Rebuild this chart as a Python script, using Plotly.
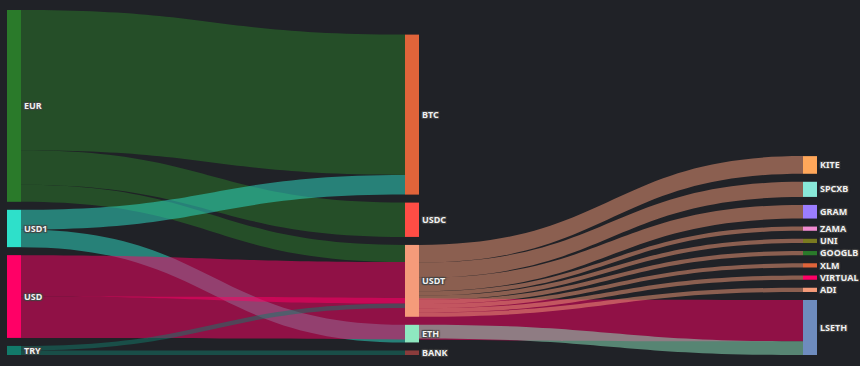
import plotly.graph_objects as go

# ---- data ----
node_labels = ["EUR", "USD1", "USD", "TRY",
               "BTC", "USDC", "USDT", "ETH", "BANK",
               "KITE", "SPCXB", "GRAM", "ZAMA", "UNI", "GOOGLB", "XLM", "VIRTUAL", "ADI", "LSETH"]
node_colors = ["#2a7a2a", "#2ee0ca", "#ff0066", "#127a6a",
               "#e0643a", "#ff4d45", "#f59b7a", "#8ee8c0", "#8a3c3c",
               "#ffa75a", "#88e8d8", "#9b7dff", "#f08ad0", "#7a7a20", "#2a7a2a", "#e0643a", "#ff0066", "#f59b7a", "#6e8cbe"]

link_sources = ["EUR", "EUR", "EUR", "USD1", "USD1", "USD", "USD", "TRY", "TRY",
                "USDT", "USDT", "USDT", "USDT", "USDT", "USDT", "USDT", "USDT", "USDT", "ETH"]
link_targets = ["BTC", "USDC", "USDT", "BTC", "ETH", "USDT", "LSETH", "USDT", "BANK",
                "KITE", "SPCXB", "GRAM", "ZAMA", "UNI", "GOOGLB", "XLM", "VIRTUAL", "ADI", "LSETH"]
link_values = [139, 34, 17, 19.5, 17.5, 41, 41, 4.5, 4.5,
               17.5, 15, 13.5, 4.2, 4.2, 4.2, 4.2, 4.2, 4.2, 13.5]

BG = "#202227"
THICK = 14


def hex_to_rgba(h, a):
    h = h.lstrip("#")
    r, g, b = int(h[0:2], 16), int(h[2:4], 16), int(h[4:6], 16)
    return f"rgba({r},{g},{b},{a})"


idx = {n: i for i, n in enumerate(node_labels)}
src = [idx[s] for s in link_sources]
tgt = [idx[t] for t in link_targets]
link_colors = [hex_to_rgba(node_colors[idx[s]], 0.5) for s in link_sources]

fig = go.Figure(go.Sankey(
    arrangement="snap",
    node=dict(
        label=node_labels,
        color=node_colors,
        pad=8,
        thickness=THICK,
        line=dict(width=0),
        align="left",
    ),
    link=dict(source=src, target=tgt, value=link_values, color=link_colors),
    textfont=dict(family="Noto Sans", size=9, color="#f0f0f0", weight="bold"),
))

fig.update_layout(
    width=860, height=366,
    margin=dict(l=7, r=43, t=10, b=11),
    paper_bgcolor=BG,
    plot_bgcolor=BG,
)

# keep every node label on the right-hand side of its node (as in the reference)
post = """
document.querySelectorAll('text.node-label').forEach(function(t){
  if (t.getAttribute('text-anchor') === 'end') {
    t.setAttribute('text-anchor', 'start');
    var tr = t.getAttribute('transform') || '';
    var m = tr.match(/translate\\(\\s*([-0-9.eE]+)\\s*[, ]\\s*([-0-9.eE]+)\\s*\\)/);
    if (m) {
      var x = -parseFloat(m[1]) + %d;
      t.setAttribute('transform', tr.replace(m[0], 'translate(' + x + ',' + m[2] + ')'));
    }
  }
});
""" % THICK

fig.write_html("out.html", post_script=post)
